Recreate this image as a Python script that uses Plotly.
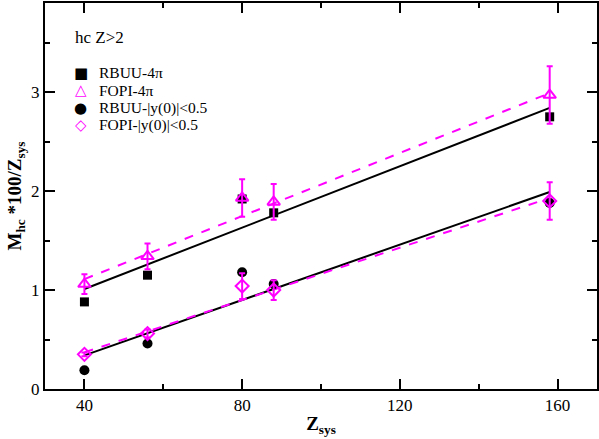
import plotly.graph_objects as go

# Z_sys of the systems
z_sys = [40, 56, 80, 88, 158]

# M_hc*100/Z_sys, 4pi
rbuu_4pi = [0.88, 1.15, 1.92, 1.78, 2.75]
fopi_4pi = [1.06, 1.34, 1.93, 1.89, 2.97]
fopi_4pi_err = [0.10, 0.13, 0.19, 0.18, 0.29]

# M_hc*100/Z_sys, |y(0)|<0.5
rbuu_mid = [0.19, 0.46, 1.18, 1.06, 1.88]
fopi_mid = [0.35, 0.56, 1.04, 1.00, 1.90]
fopi_mid_err = [0.02, 0.04, 0.13, 0.10, 0.19]

# linear fits (end points)
fit_x = [40, 158]
fit_rbuu_4pi = [1.01, 2.84]
fit_fopi_4pi = [1.11, 2.99]
fit_rbuu_mid = [0.34, 1.99]
fit_fopi_mid = [0.37, 1.93]

# legend entries (drawn by hand to get the compact row spacing)
legend_labels = ['RBUU-4\u03c0', 'FOPI-4\u03c0', 'RBUU-|y(0)|<0.5', 'FOPI-|y(0)|<0.5']
legend_glyphs = ['\u25a0', '\u25b3', '\u25cf', '\u25c7']

MAG = '#ff00ff'
FONT = 'Liberation Serif, Times New Roman, serif'
legend_colors = ['black', MAG, 'black', MAG]

fig = go.Figure()

# fit lines
for ys, col, dash in [(fit_rbuu_4pi, 'black', 'solid'), (fit_fopi_4pi, MAG, 'dash'),
                      (fit_rbuu_mid, 'black', 'solid'), (fit_fopi_mid, MAG, 'dash')]:
    fig.add_trace(go.Scatter(x=fit_x, y=ys, mode='lines', showlegend=False,
                             line=dict(color=col, width=2, dash=dash)))

fig.add_trace(go.Scatter(x=z_sys, y=rbuu_4pi, mode='markers', name=legend_labels[0],
                         marker=dict(symbol='square', size=9, color='black')))
fig.add_trace(go.Scatter(x=z_sys, y=rbuu_mid, mode='markers', name=legend_labels[2],
                         marker=dict(symbol='circle', size=10, color='black')))
fig.add_trace(go.Scatter(x=z_sys, y=fopi_4pi, mode='markers', name=legend_labels[1],
                         error_y=dict(type='data', array=fopi_4pi_err, color=MAG,
                                      thickness=2, width=3),
                         marker=dict(symbol='triangle-up-open', size=11, color=MAG,
                                     line=dict(width=2, color=MAG))))
fig.add_trace(go.Scatter(x=z_sys, y=fopi_mid, mode='markers', name=legend_labels[3],
                         error_y=dict(type='data', array=fopi_mid_err, color=MAG,
                                      thickness=2, width=3),
                         marker=dict(symbol='diamond-open', size=10, color=MAG,
                                     line=dict(width=2, color=MAG))))

fig.add_annotation(text='hc Z>2', xref='paper', yref='paper', x=0.05, y=0.91,
                   xanchor='left', yanchor='middle', showarrow=False,
                   font=dict(family=FONT, size=17, color='black'))

# hand-made legend
row_y = [0.819, 0.774, 0.729, 0.683]
for lab, gl, col, yy in zip(legend_labels, legend_glyphs, legend_colors, row_y):
    fig.add_annotation(text='<b>' + gl + '</b>', xref='paper', yref='paper', x=0.065, y=yy,
                       xanchor='center', yanchor='middle', showarrow=False,
                       font=dict(family='DejaVu Sans', size=15, color=col))
    fig.add_annotation(text=lab, xref='paper', yref='paper', x=0.094, y=yy,
                       xanchor='left', yanchor='middle', showarrow=False,
                       font=dict(family=FONT, size=15.5, color='black'))

axis_common = dict(showline=True, linecolor='black', linewidth=2, mirror='allticks',
                   ticks='inside', ticklen=10, tickwidth=2, tickcolor='black',
                   showgrid=False, zeroline=False, automargin=False,
                   tickfont=dict(family=FONT, size=17, color='black'))

fig.update_xaxes(range=[30, 170], tick0=40, dtick=40,
                 minor=dict(ticks='inside', ticklen=5, tickwidth=2, dtick=20,
                            tickcolor='black', showgrid=False),
                 title=dict(text='<b>Z<sub>sys</sub></b>', standoff=2,
                            font=dict(family=FONT, size=19, color='black')),
                 **axis_common)
fig.update_yaxes(range=[0, 3.9], dtick=1,
                 minor=dict(ticks='inside', ticklen=5, tickwidth=2, dtick=0.5,
                            tickcolor='black', showgrid=False),
                 title=dict(text='<b>M<sub>hc</sub> *100/Z<sub>sys</sub></b>', standoff=4,
                            font=dict(family=FONT, size=19, color='black')),
                 **axis_common)

fig.update_layout(width=599, height=439, margin=dict(l=45, r=2, t=3, b=50),
                  plot_bgcolor='white', paper_bgcolor='white', showlegend=False)

# drop the default page margin so the figure sits at the window corner
fig.write_html("out.html", config={'displayModeBar': False},
               post_script="document.body.style.margin='0px';")
